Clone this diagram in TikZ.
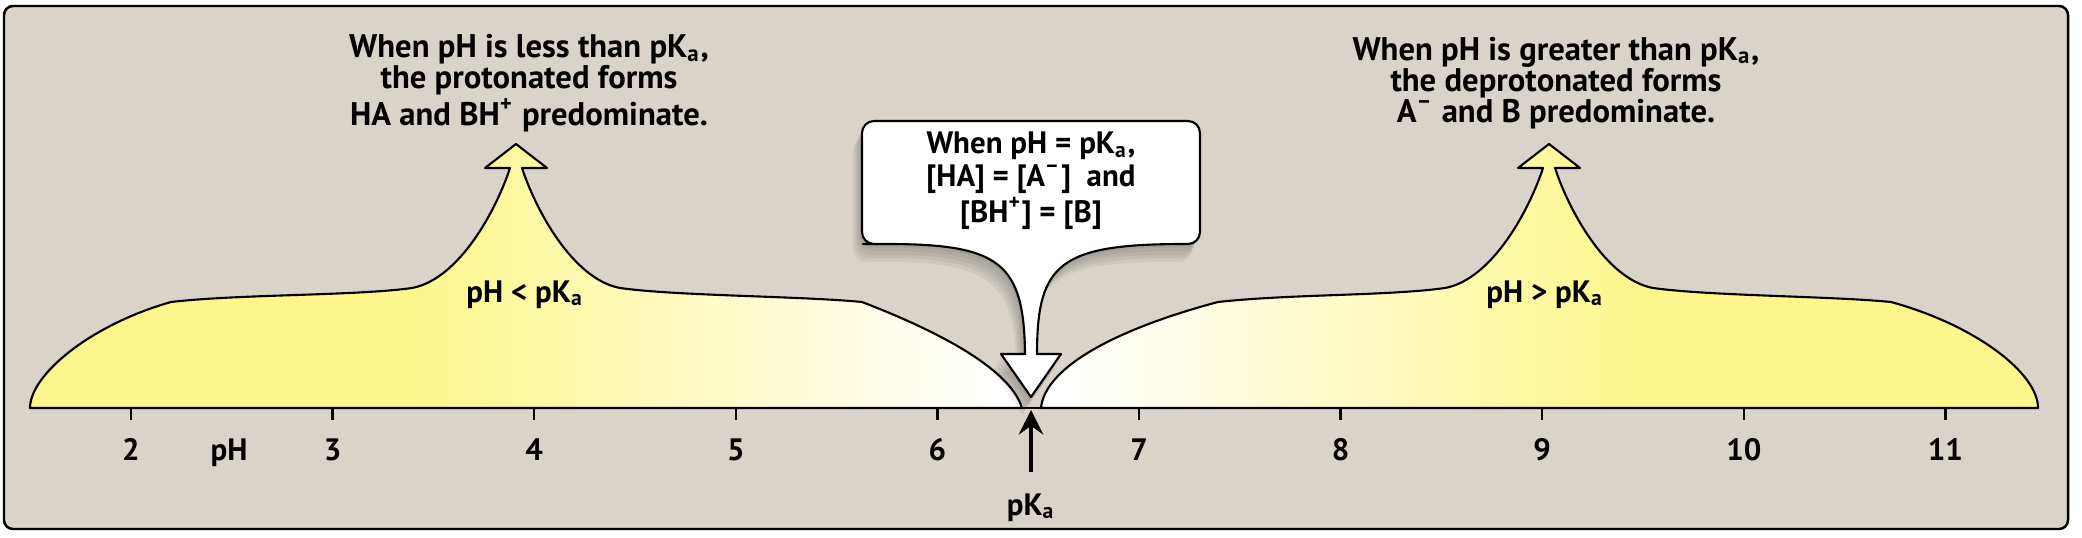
\documentclass[tikz,border=0pt]{standalone}
\usepackage{fontspec}
\setmainfont{PT Sans}
\usetikzlibrary{arrows.meta, positioning}

\definecolor{bgcol}{RGB}{217,211,201}
\definecolor{humpcol}{RGB}{253,246,140}
% fades for the two humps (25bp..75bp is the path's box)
\pgfdeclarehorizontalshading{fadeleft}{100bp}{color(0bp)=(humpcol); color(44bp)=(humpcol); color(74bp)=(white); color(100bp)=(white)}
\pgfdeclarehorizontalshading{faderight}{100bp}{color(0bp)=(white); color(26bp)=(white); color(55bp)=(humpcol); color(100bp)=(humpcol)}

\begin{document}
\begin{tikzpicture}[
    % GLOBAL CFG
    font=\bfseries\fontsize{8.8}{9.2}\selectfont,
    >={Stealth[length=7pt, width=7pt, inset=2.5pt]},
    % Styles
    frame/.style={% For the background panel
        draw,
        fill=bgcol,
        line width=0.7pt,
        rounded corners=0.09cm,
        },
    hump/.style={% For the two yellow regions
        draw,
        line width=0.6pt,
        line join=round,
        },
    softshade/.style={% one layer of the soft shadow
        preaction={fill=black, opacity=0.05, transform canvas={shift={(#1)}}},
        },
    callout/.style={% For the white speech bubble
        softshade={-0.5pt,-1pt}, softshade={-1pt,-2pt},
        softshade={-1.5pt,-3pt}, softshade={-2pt,-4pt}, softshade={-2.5pt,-5pt},
        draw,
        fill=white,
        line width=0.6pt,
        line join=round,
        },
    axisline/.style={% For the pH axis and its ticks
        line width=0.7pt,
        },
    note/.style={% For the texts
        align=center,
        inner sep=0pt,
        },
    bignote/.style={% For the two texts at the top
        note,
        font=\bfseries\fontsize{9.3}{8.8}\selectfont,
        },
    ]

%Start drawing the thing...
    % Draw the panel
    \useasboundingbox (0,-1.29) rectangle (20.82,4.08);
    \draw [frame] (0.04,-1.21) rectangle (20.68,4.02);

    % Draw the humps
    \shadedraw [hump, shading=fadeleft] (0.30,0)
        .. controls (0.30,0.33) and (0.90,0.83) .. (1.71,1.06)
        .. controls (2.40,1.14) and (3.55,1.12) .. (4.12,1.20)
        .. controls (4.60,1.29) and (4.97,2.00) .. (5.10,2.40)
        -- (4.85,2.40) -- (5.16,2.64) -- (5.47,2.40) -- (5.22,2.40)
        .. controls (5.35,2.00) and (5.72,1.29) .. (6.20,1.20)
        .. controls (6.77,1.12) and (8.00,1.12) .. (8.62,1.06)
        .. controls (9.35,0.78) and (10.10,0.40) .. (10.22,0) -- cycle;
    \shadedraw [hump, shading=faderight] (10.41,0)
        .. controls (10.45,0.42) and (11.20,0.80) .. (12.18,1.06)
        .. controls (12.90,1.14) and (13.88,1.12) .. (14.45,1.20)
        .. controls (14.93,1.29) and (15.30,2.00) .. (15.43,2.40)
        -- (15.18,2.40) -- (15.49,2.64) -- (15.80,2.40) -- (15.55,2.40)
        .. controls (15.68,2.00) and (16.05,1.29) .. (16.53,1.20)
        .. controls (17.10,1.12) and (18.30,1.12) .. (18.91,1.06)
        .. controls (19.75,0.83) and (20.38,0.35) .. (20.38,0) -- cycle;

    % Draw the axis, named axL, axR
    \coordinate (axL) at (0.30,0);
    \coordinate (axR) at (20.38,0);
    \draw [axisline] (axL) -- (axR);

    % Draw the bubble
    \draw [callout] (10.31,0.11) -- (10.61,0.54) -- (10.37,0.54)
        .. controls (10.37,1.45) and (10.60,1.64) .. (11.85,1.64)
        [rounded corners=0.12cm] -- (12.00,1.64) -- (12.00,2.87) -- (8.62,2.87) -- (8.62,1.64) -- (8.75,1.64)
        [sharp corners] .. controls (10.00,1.64) and (10.24,1.45) .. (10.25,0.54)
        -- (10.01,0.54) -- cycle;

    % Draw ticks and numbers, named t# and l#
    \foreach \v in {2,...,11}{
        \coordinate (t\v) at ({1.31+2.016*(\v-2)},0);
        \draw [axisline] (t\v) -- ++(0,-0.12);
        \node [note, anchor=base] (l\v) at ([yshift=-0.52cm]t\v) {\v};
    }
    \node [note, anchor=base] (ph) at (2.29,-0.52) {pH};

    % pKa marker
    \coordinate (pkapt) at (10.31,-0.02);
    \node [note, anchor=base] (pka) at (10.31,-1.07) {pK\textsubscript{a}};
    \coordinate (pkafoot) at (10.31,-0.64);
    \draw [->, line width=0.9pt] (pkafoot) -- (pkapt);

    % Texts
    \node [bignote] (lowtxt) at (5.29,3.25) {When pH is less than pK\textsubscript{a},\\the protonated forms\\HA and BH\textsuperscript{+} predominate.};
    \node [bignote] (hightxt) at (15.56,3.25) {When pH is greater than pK\textsubscript{a},\\the deprotonated forms\\A\textsuperscript{–} and B predominate.};
    \node [note] (eqtxt) at (10.31,2.27) {When pH = pK\textsubscript{a},\\{}[HA] = [A\textsuperscript{–}]~~and\\{}[BH\textsuperscript{+}] = [B]};
    \node [note, anchor=base] (lowlab) at (5.25,1.06) {pH < pK\textsubscript{a}};
    \node [note, anchor=base] (highlab) at (15.45,1.06) {pH > pK\textsubscript{a}};

\end{tikzpicture}
\end{document}
